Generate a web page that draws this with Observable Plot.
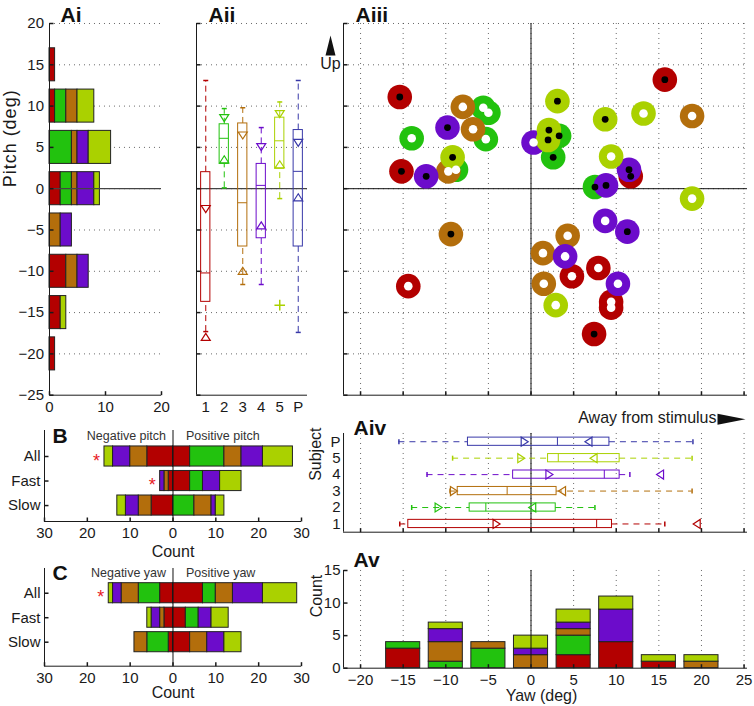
<!DOCTYPE html>
<html><head><meta charset="utf-8">
<script src="https://cdn.jsdelivr.net/npm/d3@7"></script>
<script src="https://cdn.jsdelivr.net/npm/@observablehq/plot@0.6"></script>
<style>
html,body{margin:0;padding:0;background:#fff;}
#fig{position:relative;width:754px;height:706px;overflow:hidden;background:#fff;}
#fig svg{position:absolute;}
</style></head><body><div id="fig"></div>
<script>
// ================= DATA =================
const subjects = ["1","2","3","4","5"];
const boxLabels = ["1","2","3","4","5","P"];
const subjectColors = ["#b30000","#22c20e","#b36e0c","#6c0ccb","#aad100","#3838a8"];
const rowLabels = ["All","Fast","Slow"];

// Ai: pitch histogram (counts per subject, bins listed top to bottom)
const pitchBins = [15,10,5,0,-5,-10,-15,-20];
const pitchCounts1 = [1,1,0,2,0,3,2,1];
const pitchCounts2 = [0,2,4,2,0,0,0,0];
const pitchCounts3 = [0,2,1,1,2,2,0,0];
const pitchCounts4 = [0,0,2,3,2,2,0,0];
const pitchCounts5 = [0,3,4,1,0,0,1,0];

// Av: yaw histogram
const yawBins = [-15,-10,-5,0,5,10,15,20];
const yawCounts1 = [3,0,0,0,2,4,1,0];
const yawCounts2 = [1,1,3,0,3,0,0,0];
const yawCounts3 = [0,3,1,2,1,0,0,1];
const yawCounts4 = [0,2,0,1,1,5,0,0];
const yawCounts5 = [0,1,0,2,2,2,1,1];

// Aii: pitch box plots (subjects 1-5, pooled P)
const pitchWhiskerLow  = [-17.3, 0.1, -11.6, -11.6, -1.2, -17.4];
const pitchQ1          = [-13.7, 3.0, -7.0, -6.0, 2.4, -7.0];
const pitchMedian      = [-10.2, 6.1, -1.7, 0.4, 5.8, 2.1];
const pitchQ3          = [2.0, 7.8, 7.9, 3.0, 8.6, 7.1];
const pitchWhiskerHigh = [13.1, 9.7, 9.8, 7.4, 10.5, 13.1];
const pitchDownMarker  = [-2.4, 8.6, 6.5, 5.1, 9.1, 5.6];
const pitchUpMarker    = [-18.0, 3.5, -10.0, -4.5, 2.9, -1.1];
const pitchOutlierSubject = ["5"];
const pitchOutlierValue   = [-14.1];

// Aiv: yaw box plots
const yawWhiskerLow  = [-15.4, -14.0, -9.5, -12.2, -9.2, -15.5];
const yawQ1          = [-14.4, -7.2, -8.6, -2.1, 2.0, -7.4];
const yawMedian      = [7.7, -5.3, -2.8, 8.6, 3.2, 3.1];
const yawQ3          = [9.5, 2.9, 3.0, 10.4, 10.4, 9.2];
const yawWhiskerHigh = [15.7, 7.5, 18.9, 11.6, 18.9, 19.0];
const yawRightMarker = [-4.1, -10.9, -9.1, 2.1, -1.2, -0.8];
const yawLeftMarker  = [19.5, 0.2, 3.7, 15.2, 7.4, 6.8];

// Aiii: individual responses
const pointYaw     = [-15.4,15.7,-15.2,-14.4,4.8,7.9,9.4,9.4,7.4,11.7,
                      -14.0,-5.6,-5.0,-5.3,-8.8,3.3,2.6,7.5,
                      -8.0,-6.8,-9.7,-9.4,18.9,4.3,1.4,1.5,
                      -9.8,-12.3,0.3,11.5,8.8,8.7,11.3,4.0,10.2,
                      3.1,8.7,13.2,2.1,2.0,-9.2,9.4,18.9,2.9];
const pointPitch   = [11.1,13.2,2.1,-11.8,-10.6,-9.6,-13.7,-14.4,-17.6,1.5,
                      6.1,9.8,9.2,6.0,2.3,6.4,3.8,0.2,
                      9.9,7.2,2.1,-5.5,8.8,-5.7,-7.8,-11.5,
                      7.4,1.5,5.6,2.3,0.4,-3.9,-5.2,-8.2,-11.5,
                      10.6,8.4,9.1,7.1,5.9,3.8,3.9,-1.2,-14.1];
const pointSubject = ["1","1","1","1","1","1","1","1","1","1",
                      "2","2","2","2","2","2","2","2",
                      "3","3","3","3","3","3","3","3",
                      "4","4","4","4","4","4","4","4","4",
                      "5","5","5","5","5","5","5","5","5"];
const pointSpeed   = ["fast","fast","fast","slow","slow","slow","slow","slow","fast","fast",
                      "slow","slow","slow","slow","slow","fast","fast","fast",
                      "slow","slow","slow","fast","slow","slow","slow","slow",
                      "fast","fast","slow","fast","fast","slow","fast","slow","slow",
                      "fast","fast","slow","fast","fast","fast","slow","slow","slow"];

// B: pitch sign counts per subject (1..5)
const pitchAllNeg  = [6,0,4,4,2], pitchAllPos  = [4,8,4,5,7];
const pitchFastNeg = [1,0,1,1,0], pitchFastPos = [4,3,0,4,5];
const pitchSlowNeg = [5,0,3,3,2], pitchSlowPos = [0,5,4,1,2];
const pitchStarRows = ["All","Fast"];
// C: yaw sign counts per subject
const yawAllNeg  = [3,5,4,2,1], yawAllPos  = [7,3,4,7,8];
const yawFastNeg = [2,0,1,2,1], yawFastPos = [3,3,0,3,4];
const yawSlowNeg = [1,5,3,0,0], yawSlowPos = [4,0,4,4,4];
const yawStarRows = ["All"];

// axis ticks
const pitchTicks = d3.range(-25, 21, 5);
const yawTicks = d3.range(-20, 26, 5);
const countTicksAv = [0,5,10,15];
const countTicksBC = d3.range(-30, 31, 10);

// ================= HELPERS =================
const FONT = "'Liberation Sans', Arial, Helvetica, sans-serif";
const AX = "#1a1a1a";
const GRID = {stroke: "#444", strokeDasharray: "1,4", strokeWidth: 1, strokeOpacity: 0.8};
const colorOpt = {domain: boxLabels, range: subjectColors};
const pitchDomain = [-25, 20];
const yawDomain = [-22, 25.4];
const binHalf = 2;

function poly(pts, close = true) {
  return {draw(ctx) {
    ctx.moveTo(pts[0][0], pts[0][1]);
    for (let i = 1; i < pts.length; ++i) ctx.lineTo(pts[i][0], pts[i][1]);
    if (close) ctx.closePath();
  }};
}
const triDown = poly([[-4.5,-3],[4.5,-3],[0,4]]);
const triUp = poly([[0,-4],[4.5,3],[-4.5,3]]);
const triRight = poly([[-3,-4.5],[-3,4.5],[4,0]]);
const triLeft = poly([[3,-4.5],[3,4.5],[-4,0]]);
const capH = poly([[-2.5,0],[2.5,0]], false);
const capV = poly([[0,-2.5],[0,2.5]], false);
const tickRight = poly([[0,0],[4,0]], false);
const tickUp = poly([[0,0],[0,-4]], false);
const arrowUp = poly([[0,-10],[5,10],[-5,10]]);
const arrowRight = poly([[-14,-5.5],[14,0],[-14,5.5]]);

function histRows(bins, counts) {
  const rows = [];
  bins.forEach((b, i) => subjects.forEach((s, j) => {
    const n = counts[j][i];
    if (n > 0) rows.push({bin: b, subject: s, n});
  }));
  return rows;
}
function signRows(sets) {
  const rows = [];
  sets.forEach(([neg, pos], r) => {
    subjects.forEach((s, j) => { if (neg[j] > 0) rows.push({row: r + 1, subject: s, n: -neg[j]}); });
    subjects.forEach((s, j) => { if (pos[j] > 0) rows.push({row: r + 1, subject: s, n: pos[j]}); });
  });
  return rows;
}
function boxes(lo, q1, med, q3, hi, mA, mB) {
  return boxLabels.map((s, i) => ({subject: s, pos: i + 1, lo: lo[i], q1: q1[i], med: med[i], q3: q3[i], hi: hi[i], mA: mA[i], mB: mB[i]}));
}

function panel(frame, m, options) {
  const [x0, x1, y0, y1] = frame;
  const svg = Plot.plot({
    width: x1 - x0 + m[0] + m[1], height: y1 - y0 + m[2] + m[3],
    marginLeft: m[0], marginRight: m[1], marginTop: m[2], marginBottom: m[3],
    style: {background: "transparent", overflow: "visible", fontFamily: FONT, fontSize: "15px", color: AX},
    color: colorOpt,
    ...options
  });
  svg.style.left = (x0 - m[0]) + "px";
  svg.style.top = (y0 - m[2]) + "px";
  document.getElementById("fig").append(svg);
  return svg;
}
const title = (t, dx, dy, anchor = "top-left") => Plot.text([t], {text: d => d, frameAnchor: anchor, textAnchor: "start", lineAnchor: "bottom", dx, dy, fontWeight: "bold", fontSize: 21, fill: "#111"});

// ================= PANELS =================
const pitchY = {domain: pitchDomain, axis: null};
const pitchYFrame = [23.3, 395];

// ---- Ai ----
const ai = panel([49, 161, ...pitchYFrame], [49, 12, 24, 30], {
  x: {domain: [0, 20], ticks: [0, 10, 20], tickSize: 0, tickPadding: 6, label: null},
  y: {domain: pitchDomain, ticks: pitchTicks, tickSize: 0, tickPadding: 5.5, label: null},
  marks: [
    Plot.ruleY(pitchTicks.filter(t => t > -25), GRID),
    Plot.rectX(histRows(pitchBins, [pitchCounts1, pitchCounts2, pitchCounts3, pitchCounts4, pitchCounts5]),
      {x: "n", y1: d => d.bin - binHalf, y2: d => d.bin + binHalf, fill: "subject", stroke: "#222", strokeWidth: 1}),
    Plot.ruleY([0], {stroke: "#444", strokeWidth: 1.2}),
    Plot.ruleX([0], {stroke: AX}),
    Plot.ruleY([-25], {stroke: AX}),
    Plot.dot(pitchTicks, {y: d => d, frameAnchor: "left", symbol: tickRight, fill: "none", stroke: AX}),
    Plot.dot([0, 10, 20], {x: d => d, frameAnchor: "bottom", symbol: tickUp, fill: "none", stroke: AX}),
    Plot.text(["Pitch (deg)"], {text: d => d, frameAnchor: "left", rotate: -90, dx: -39, dy: -22, fontSize: 18}),
    title("Ai", 11, -1)
  ]
});
ai.querySelectorAll("text").forEach(t => { if (t.textContent === "Pitch (deg)") t.setAttribute("letter-spacing", "1"); });

// ---- Aii ----
const pitchBox = boxes(pitchWhiskerLow, pitchQ1, pitchMedian, pitchQ3, pitchWhiskerHigh, pitchDownMarker, pitchUpMarker);
const pitchOut = pitchOutlierSubject.map((s, i) => ({subject: s, pos: boxLabels.indexOf(s) + 1, v: pitchOutlierValue[i]}));
panel([196, 307, ...pitchYFrame], [10, 12, 24, 30], {
  x: {domain: [0.5, 6.5], ticks: [1,2,3,4,5,6], tickFormat: i => boxLabels[i - 1], tickSize: 0, tickPadding: 6, label: null},
  y: pitchY,
  marks: [
    Plot.ruleY(pitchTicks.filter(t => t > -25), GRID),
    Plot.ruleY([0], {stroke: "#444", strokeWidth: 1.2}),
    Plot.ruleX(pitchBox, {x: "pos", y1: "q3", y2: "hi", stroke: "subject", strokeDasharray: "6,4"}),
    Plot.ruleX(pitchBox, {x: "pos", y1: "lo", y2: "q1", stroke: "subject", strokeDasharray: "6,4"}),
    Plot.rect(pitchBox, {x1: d => d.pos - 0.25, x2: d => d.pos + 0.25, y1: "q1", y2: "q3", fill: "none", stroke: "subject"}),
    Plot.ruleY(pitchBox, {y: "med", x1: d => d.pos - 0.25, x2: d => d.pos + 0.25, stroke: "subject"}),
    Plot.dot(pitchBox, {x: "pos", y: "hi", symbol: capH, fill: "none", stroke: "subject"}),
    Plot.dot(pitchBox, {x: "pos", y: "lo", symbol: capH, fill: "none", stroke: "subject"}),
    Plot.dot(pitchBox, {x: "pos", y: "mA", symbol: triDown, fill: "none", stroke: "subject", strokeWidth: 1.2}),
    Plot.dot(pitchBox, {x: "pos", y: "mB", symbol: triUp, fill: "none", stroke: "subject", strokeWidth: 1.2}),
    Plot.dot(pitchOut, {x: "pos", y: "v", symbol: "plus", r: 3.5, fill: "none", stroke: "subject"}),
    Plot.ruleX([0.5], {stroke: AX}),
    Plot.ruleY([-25], {stroke: AX}),
    Plot.dot(pitchTicks, {y: d => d, frameAnchor: "left", symbol: tickRight, fill: "none", stroke: AX}),
    title("Aii", 12, -1)
  ]
});

// ---- Aiii ----
const points = pointYaw.map((x, i) => ({yaw: x, pitch: pointPitch[i], subject: pointSubject[i], speed: pointSpeed[i]}));
panel([342.7, 746.7, ...pitchYFrame], [30, 8, 24, 34], {
  x: {domain: yawDomain, axis: null},
  y: pitchY,
  marks: [
    Plot.ruleY(pitchTicks.filter(t => t > -25), GRID),
    Plot.ruleX(yawTicks, GRID),
    Plot.ruleY([0], {stroke: "#111"}),
    Plot.ruleX([0], {stroke: "#111"}),
    Plot.dot(points, {x: "yaw", y: "pitch", r: 12.3, fill: "subject", stroke: "none"}),
    Plot.dot(points.filter(d => d.speed === "fast"), {x: "yaw", y: "pitch", r: 3.4, fill: "black", stroke: "none"}),
    Plot.dot(points.filter(d => d.speed === "slow"), {x: "yaw", y: "pitch", r: 4.3, fill: "white", stroke: "none"}),
    Plot.ruleX([yawDomain[0]], {stroke: AX}),
    Plot.ruleY([-25], {stroke: AX}),
    Plot.dot(pitchTicks, {y: d => d, frameAnchor: "left", symbol: tickRight, fill: "none", stroke: AX}),
    Plot.dot(yawTicks, {x: d => d, frameAnchor: "bottom", symbol: tickUp, fill: "none", stroke: AX}),
    Plot.dot([0], {frameAnchor: "top-left", dx: -13, dy: 22, symbol: arrowUp, fill: "#111", stroke: "none"}),
    Plot.text(["Up"], {text: d => d, frameAnchor: "top-left", textAnchor: "middle", lineAnchor: "bottom", dx: -13, dy: 46, fontSize: 16}),
    Plot.text(["Away from stimulus"], {text: d => d, frameAnchor: "bottom-right", textAnchor: "end", lineAnchor: "bottom", dx: -31, dy: 28, fontSize: 16}),
    Plot.dot([0], {frameAnchor: "bottom-right", dx: -16, dy: 24, symbol: arrowRight, fill: "#111", stroke: "none"}),
    title("Aiii", 12, -1)
  ]
});

// ---- Aiv ----
const yawBox = boxes(yawWhiskerLow, yawQ1, yawMedian, yawQ3, yawWhiskerHigh, yawRightMarker, yawLeftMarker);
panel([342.7, 746.7, 433, 531.7], [30, 8, 10, 10], {
  x: {domain: yawDomain, axis: null},
  y: {domain: [0.5, 6.5], ticks: [1,2,3,4,5,6], tickFormat: i => boxLabels[i - 1], tickSize: 0, tickPadding: 3, label: null},
  marks: [
    Plot.ruleX(yawTicks, GRID),
    Plot.ruleX([0], {stroke: "#111"}),
    Plot.ruleY(yawBox, {y: "pos", x1: "q3", x2: "hi", stroke: "subject", strokeDasharray: "6,5"}),
    Plot.ruleY(yawBox, {y: "pos", x1: "lo", x2: "q1", stroke: "subject", strokeDasharray: "6,5"}),
    Plot.rect(yawBox, {y1: d => d.pos - 0.25, y2: d => d.pos + 0.25, x1: "q1", x2: "q3", fill: "none", stroke: "subject"}),
    Plot.ruleX(yawBox, {x: "med", y1: d => d.pos - 0.25, y2: d => d.pos + 0.25, stroke: "subject"}),
    Plot.dot(yawBox, {y: "pos", x: "hi", symbol: capV, fill: "none", stroke: "subject"}),
    Plot.dot(yawBox, {y: "pos", x: "lo", symbol: capV, fill: "none", stroke: "subject"}),
    Plot.dot(yawBox, {y: "pos", x: "mA", symbol: triRight, fill: "none", stroke: "subject", strokeWidth: 1.2}),
    Plot.dot(yawBox, {y: "pos", x: "mB", symbol: triLeft, fill: "none", stroke: "subject", strokeWidth: 1.2}),
    Plot.ruleX([yawDomain[0]], {stroke: AX}),
    Plot.ruleY([0.5], {stroke: AX}),
    Plot.dot(yawTicks, {x: d => d, frameAnchor: "bottom", symbol: tickUp, fill: "none", stroke: AX}),
    Plot.text(["Subject"], {text: d => d, frameAnchor: "left", rotate: -90, dx: -28, dy: -2, fontSize: 16}),
    title("Aiv", 10, 2)
  ]
});

// ---- Av ----
panel([342.7, 746.7, 570, 667.7], [30, 8, 10, 36], {
  x: {domain: yawDomain, ticks: yawTicks, tickSize: 0, tickPadding: 6, label: null},
  y: {domain: [0, 15], ticks: countTicksAv, tickSize: 0, tickPadding: 3, label: null},
  marks: [
    Plot.ruleX(yawTicks, GRID),
    Plot.rectY(histRows(yawBins, [yawCounts1, yawCounts2, yawCounts3, yawCounts4, yawCounts5]),
      {y: "n", x1: d => d.bin - binHalf, x2: d => d.bin + binHalf, fill: "subject", stroke: "#222", strokeWidth: 1}),
    Plot.ruleX([0], {stroke: "#111"}),
    Plot.ruleX([yawDomain[0]], {stroke: AX}),
    Plot.ruleY([0], {stroke: AX}),
    Plot.dot(countTicksAv, {y: d => d, frameAnchor: "left", symbol: tickRight, fill: "none", stroke: AX}),
    Plot.dot(yawTicks, {x: d => d, frameAnchor: "bottom", symbol: tickUp, fill: "none", stroke: AX}),
    Plot.text(["Count"], {text: d => d, frameAnchor: "left", rotate: -90, dx: -27, dy: -2, fontSize: 16}),
    Plot.text(["Yaw (deg)"], {text: d => d, frameAnchor: "bottom", lineAnchor: "bottom", dx: -4, dy: 33, fontSize: 16}),
    title("Av", 10, -3)
  ]
});

// ---- B and C ----
function signPanel(frame, yDomain, sets, stars, letter, negLabel, posLabel, countDy) {
  const data = signRows(sets);
  const negTotal = rowLabels.map((r, i) => d3.sum(sets[i][0]));
  panel(frame, [44, 12, 10, 40], {
    x: {domain: [-30, 30], ticks: countTicksBC, tickFormat: d => Math.abs(d), tickSize: 0, tickPadding: 6, label: null},
    y: {domain: yDomain, ticks: [1, 2, 3], tickFormat: i => rowLabels[i - 1], tickSize: 0, tickPadding: 4, label: null},
    marks: [
      Plot.rectX(data, {x: "n", y1: d => d.row - 0.41, y2: d => d.row + 0.41, fill: "subject", stroke: "#222", strokeWidth: 1}),
      Plot.ruleX([0], {stroke: "#111"}),
      Plot.ruleX([-30], {stroke: AX}),
      Plot.ruleY([yDomain[0]], {stroke: AX}),
      Plot.dot([1, 2, 3], {y: d => d, frameAnchor: "left", symbol: tickRight, fill: "none", stroke: AX}),
      Plot.dot(countTicksBC, {x: d => d, frameAnchor: "bottom", symbol: tickUp, fill: "none", stroke: AX}),
      Plot.text(stars, {x: d => -negTotal[rowLabels.indexOf(d)], y: d => rowLabels.indexOf(d) + 1, text: () => "*", dx: -8, dy: 4.5, fill: "#e8191f", fontSize: 18}),
      Plot.text([negLabel], {text: d => d, x: () => 0, frameAnchor: "top", textAnchor: "end", lineAnchor: "middle", dx: -7, dy: 5, fontSize: 12.5, fill: "#333"}),
      Plot.text([posLabel], {text: d => d, x: () => 0, frameAnchor: "top", textAnchor: "start", lineAnchor: "middle", dx: 13, dy: 5, fontSize: 12.5, fill: "#333"}),
      Plot.text(["Count"], {text: d => d, frameAnchor: "bottom", lineAnchor: "bottom", dy: countDy, fontSize: 16}),
      title(letter, 8, 12)
    ]
  });
}
signPanel([44, 301, 430, 521], [3.65, -0.06],
  [[pitchAllNeg, pitchAllPos], [pitchFastNeg, pitchFastPos], [pitchSlowNeg, pitchSlowPos]],
  pitchStarRows, "B", "Negative pitch", "Positive pitch", 35);
signPanel([44, 301, 568, 665.7], [3.98, -0.01],
  [[yawAllNeg, yawAllPos], [yawFastNeg, yawFastPos], [yawSlowNeg, yawSlowPos]],
  yawStarRows, "C", "Negative yaw", "Positive yaw", 32);
</script></body></html>
